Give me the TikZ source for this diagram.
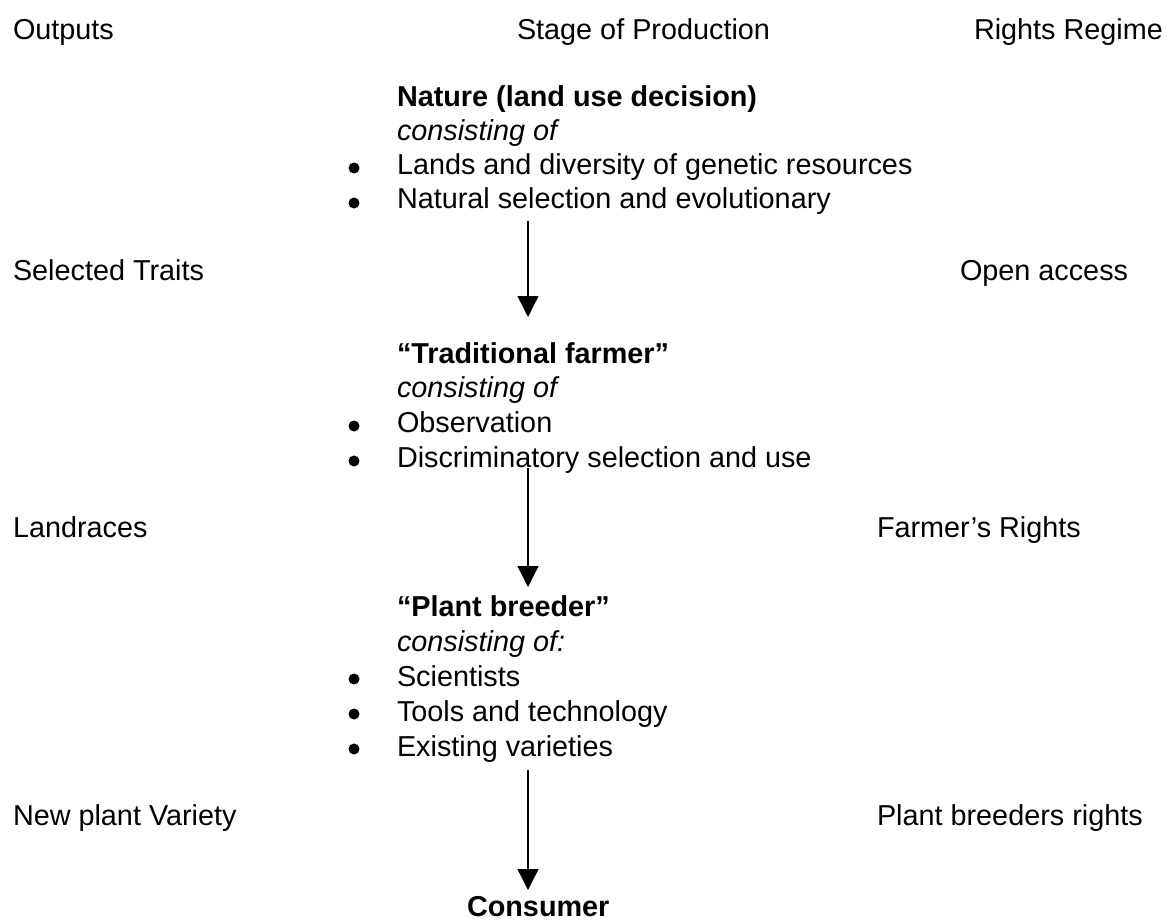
\documentclass[tikz,border=0pt]{standalone}
\usepackage{fontspec}
\setmainfont{Liberation Sans}
\usetikzlibrary{arrows.meta}
\begin{document}
\begin{tikzpicture}[x=1pt,y=-1pt,
  txt/.style={anchor=base west,inner sep=0pt,outer sep=0pt,font=\fontsize{28.8}{34}\selectfont},
  ttl/.style={txt,font=\fontsize{28.8}{34}\selectfont\bfseries},
  itl/.style={txt,font=\fontsize{28.8}{34}\selectfont\itshape},
  bul/.style={circle,fill=black,inner sep=0pt,minimum size=11pt},
  arr/.style={line width=1.3pt,-{Triangle[width=21pt,length=21pt]}}]
\useasboundingbox (0,0) rectangle (1167,920);
% header
\node[txt] (hout) at (13,40) {Outputs};
\node[txt] (hstage) at (517,40) {Stage of Production};
\node[txt] (hright) at (974,40) {Rights Regime};
% Nature block
\node[ttl] (nat) at (397,107) {Nature (land use decision)};
\node[itl] (natc) at (397,141) {consisting of};
\node[bul] (nb1) at (354,168) {};
\node[txt] (nl1) at (397,175) {Lands and diversity of genetic resources};
\node[bul] (nb2) at (354,203) {};
\node[txt] (nl2) at (397,209) {Natural selection and evolutionary};
% row 1 labels
\node[txt] (o1) at (13,280) {Selected Traits};
\node[txt] (r1) at (960,280) {Open access};
% Traditional farmer block
\node[ttl] (tf) at (397,363) {“Traditional farmer”};
\node[itl] (tfc) at (397,397) {consisting of};
\node[bul] (tb1) at (354,426) {};
\node[txt] (tl1) at (397,432) {Observation};
\node[bul] (tb2) at (354,461) {};
\node[txt] (tl2) at (397,467) {Discriminatory selection and use};
% row 2 labels
\node[txt] (o2) at (13,537) {Landraces};
\node[txt] (r2) at (877,537) {Farmer’s Rights};
% Plant breeder block
\node[ttl] (pb) at (397,616) {“Plant breeder”};
\node[itl] (pbc) at (397,651) {consisting of:};
\node[bul] (pb1) at (354,679) {};
\node[txt] (pl1) at (397,686) {Scientists};
\node[bul] (pb2) at (354,714) {};
\node[txt] (pl2) at (397,721) {Tools and technology};
\node[bul] (pb3) at (354,749) {};
\node[txt] (pl3) at (397,756) {Existing varieties};
% row 3 labels
\node[txt] (o3) at (13,825) {New plant Variety};
\node[txt] (r3) at (877,825) {Plant breeders rights};
% Consumer
\node[ttl] (con) at (467,916) {Consumer};
% arrows
\coordinate (a1s) at (528,221);
\coordinate (a1e) at (528,317);
\coordinate (a2s) at (528,468);
\coordinate (a2e) at (528,587);
\coordinate (a3s) at (528,770);
\coordinate (a3e) at (528,890);
\draw[arr] (a1s) -- (a1e);
\draw[arr] (a2s) -- (a2e);
\draw[arr] (a3s) -- (a3e);
\end{tikzpicture}
\end{document}
